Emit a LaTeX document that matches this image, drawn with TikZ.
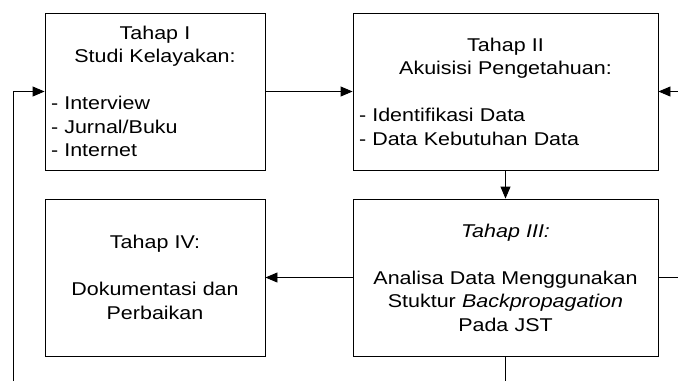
\documentclass[tikz,border=0pt]{standalone}
\usepackage{fontspec}
\setmainfont{Liberation Sans}[FakeStretch=1.16]
\usetikzlibrary{arrows.meta}

\tikzset{
	box/.style={draw, line width=0.9pt, minimum height=157pt, inner xsep=6pt, inner ysep=0pt, align=center, font=\fontsize{18.5}{23.5}\selectfont},
	smallbox/.style={box, text width=208pt},
	bigbox/.style={box, text width=293pt},
	flow/.style={line width=0.9pt, -{Triangle[length=12pt,width=10pt]}},
	wire/.style={line width=0.9pt}
}
\newcommand\lftline[1]{\makebox[\hsize][l]{#1}}

\begin{document}
\begin{tikzpicture}[x=1pt,y=1pt]
	\useasboundingbox (0,0) rectangle (678,-381);
	\node[smallbox] (tahapI) at (155,-91.5) {Tahap I\\ Studi Kelayakan:\\[23.5pt]
		\lftline{- Interview}\\ \lftline{- Jurnal/Buku}\\ \lftline{- Internet}};
	\node[bigbox] (tahapII) at (505.5,-91.5) {Tahap II\\ Akuisisi Pengetahuan:\\[23.5pt]
		\lftline{- Identifikasi Data}\\ \lftline{- Data Kebutuhan Data}};
	\node[bigbox] (tahapIII) at (505.5,-277.5) {\textit{Tahap III:}\\[23.5pt]
		Analisa Data Menggunakan\\ Stuktur \textit{Backpropagation}\\ Pada JST};
	\node[smallbox] (tahapIV) at (155,-277.5) {Tahap IV:\\[23.5pt]
		Dokumentasi dan\\ Perbaikan};
	\coordinate (balik) at (13,-381);
	\coordinate (masuk) at (678,-91.5);
	\coordinate (keluar) at (678,-277.5);
	\coordinate (bawah) at (505.5,-381);
	\draw[flow] (tahapI) -- (tahapII);
	\draw[flow] (balik) |- (tahapI.west);
	\draw[flow] (masuk) -- (tahapII.east);
	\draw[flow] (tahapII) -- (tahapIII);
	\draw[flow] (tahapIII) -- (tahapIV);
	\draw[wire] (tahapIII.east) -- (keluar);
	\draw[wire] (tahapIII.south) -- (bawah);
\end{tikzpicture}
\end{document}
